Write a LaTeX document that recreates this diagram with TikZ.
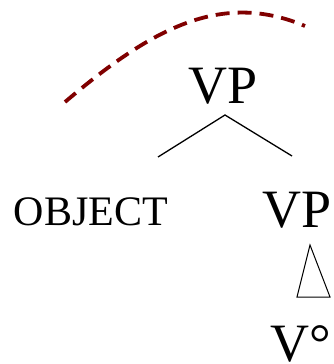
\documentclass[tikz,border=0pt]{standalone}
\usepackage{fontspec}
\setmainfont{Liberation Serif}
\begin{document}
\begin{tikzpicture}[x=1pt,y=1pt,
  lbl/.style={inner sep=0pt,anchor=base,font=\fontsize{54}{54}\selectfont},
  small/.style={inner sep=0pt,anchor=base,font=\fontsize{42}{42}\selectfont},
  branch/.style={line width=1.3pt},
  movepath/.style={line width=3.8pt,color={rgb,255:red,128;green,0;blue,0},dash pattern=on 14pt off 8pt}]
\useasboundingbox (0,0) rectangle (334,-364);
\node[lbl] (vp) at (223,-103) {VP};
\node[small] (obj) at (91,-225) {OBJECT};
\node[lbl] (vp2) at (297.5,-227) {VP};
\node[lbl] (v) at (301,-361) {V°};
\coordinate (apex) at (225,-115);
\coordinate (lend) at (158,-157);
\coordinate (rend) at (292,-156);
\draw[branch] (lend) -- (apex) -- (rend);
\coordinate (ta) at (310,-245);
\coordinate (tl) at (297,-297);
\coordinate (tr) at (330,-297);
\draw[line width=1pt,line join=miter] (ta) -- (tl) -- (tr) -- cycle;
\coordinate (ms) at (65,-102);
\coordinate (me) at (305,-26);
\draw[movepath] (ms) .. controls (150,-30) and (220,10) .. (me);
\end{tikzpicture}
\end{document}
